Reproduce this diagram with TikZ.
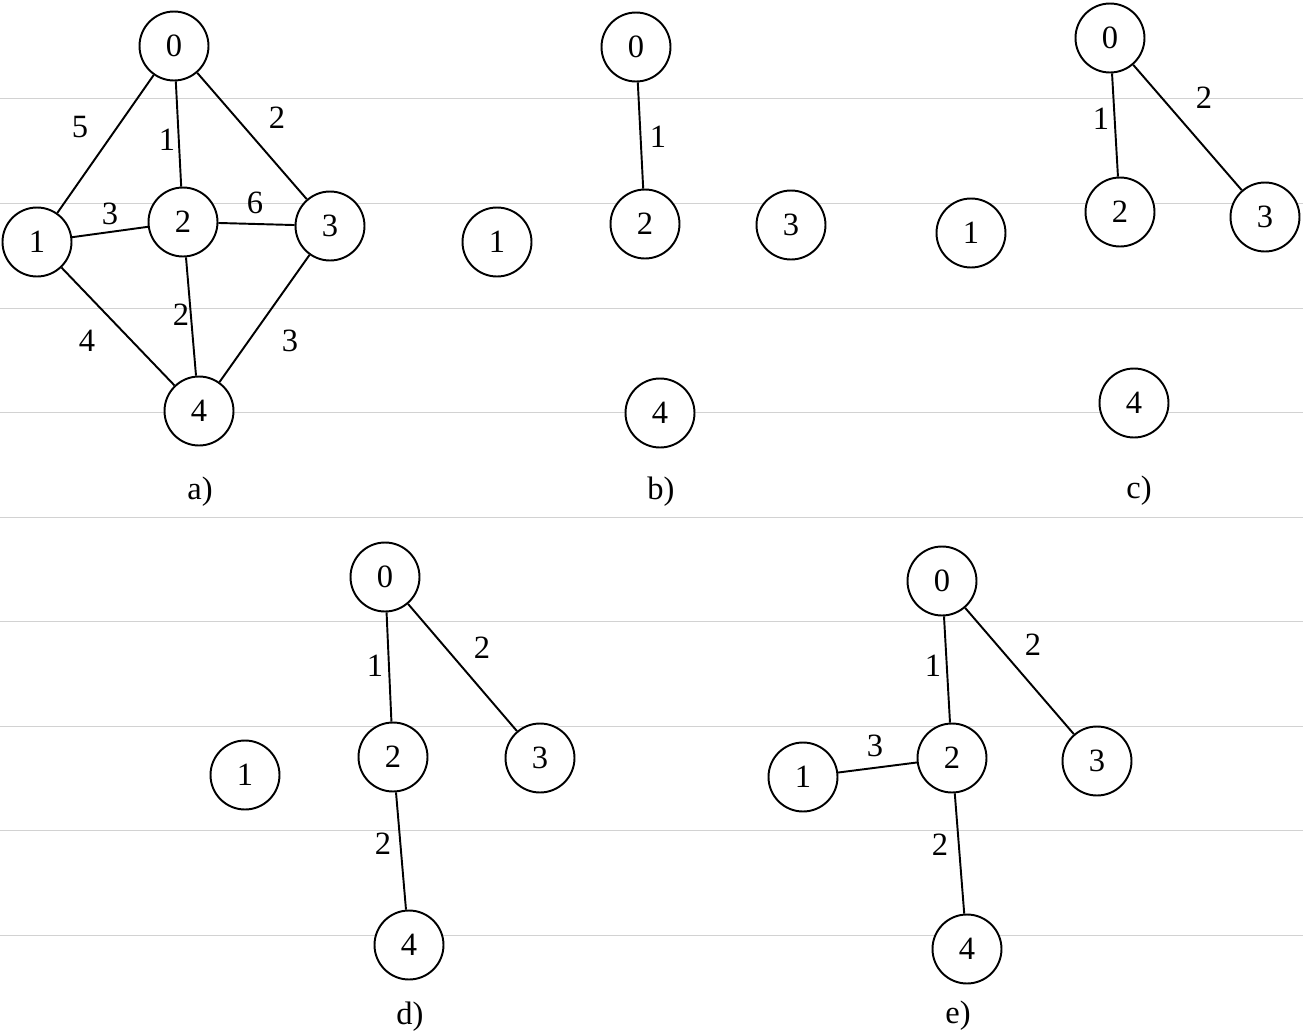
\documentclass[tikz,border=0pt]{standalone}
\usepackage{fontspec}
\setmainfont{Liberation Serif}
\usepackage{tikz}
\definecolor{ruleGray}{HTML}{D2D2D2}

\begin{document}
\begin{tikzpicture}[
    x=0.02cm, y=-0.02cm,
    vtx/.style={circle, draw, line width=1.1pt, minimum size=1.38cm, inner sep=0pt, fill=white, font=\fontsize{18.5}{22}\selectfont},
    wlbl/.style={inner sep=0pt, font=\fontsize{18.5}{22}\selectfont},
    caplbl/.style={inner sep=0pt, font=\fontsize{18.5}{22}\selectfont},
    every path/.style={line width=1.1pt}
]
\useasboundingbox (0,0) rectangle (1303,1032);
% ruled background
\foreach \yy in {98,203,308,412,517,621,726,830,935}
    \draw[ruleGray, line width=0.5pt] (0,\yy) -- (1303,\yy);

% a) the full graph
\node[vtx] (a0) at (174,46) {0};
\node[vtx] (a1) at (37,242) {1};
\node[vtx] (a2) at (183,222) {2};
\node[vtx] (a3) at (330,226) {3};
\node[vtx] (a4) at (199,411) {4};
\draw (a0) -- (a1);
\draw (a0) -- (a2);
\draw (a0) -- (a3);
\draw (a1) -- (a2);
\draw (a2) -- (a3);
\draw (a2) -- (a4);
\draw (a1) -- (a4);
\draw (a3) -- (a4);
\node[wlbl] (wa01) at (80,127) {5};
\node[wlbl] (wa02) at (167,140) {1};
\node[wlbl] (wa03) at (277,118) {2};
\node[wlbl] (wa12) at (110,214) {3};
\node[wlbl] (wa23) at (255,203) {6};
\node[wlbl] (wa24) at (181,315) {2};
\node[wlbl] (wa14) at (87,341) {4};
\node[wlbl] (wa34) at (290,341) {3};
\node[caplbl] (capa) at (200,492) {a)};

% b)
\node[vtx] (b0) at (636,47) {0};
\node[vtx] (b1) at (497,242) {1};
\node[vtx] (b2) at (645,224) {2};
\node[vtx] (b3) at (791,225) {3};
\node[vtx] (b4) at (660,413) {4};
\draw (b0) -- (b2);
\node[wlbl] (wb02) at (658,137) {1};
\node[caplbl] (capb) at (661,492) {b)};

% c)
\node[vtx] (c0) at (1110,38) {0};
\node[vtx] (c1) at (971,233) {1};
\node[vtx] (c2) at (1120,212) {2};
\node[vtx] (c3) at (1265,217) {3};
\node[vtx] (c4) at (1134,403) {4};
\draw (c0) -- (c2);
\draw (c0) -- (c3);
\node[wlbl] (wc02) at (1101,119) {1};
\node[wlbl] (wc03) at (1204,98) {2};
\node[caplbl] (capc) at (1139,491) {c)};

% d)
\node[vtx] (d0) at (385,577) {0};
\node[vtx] (d1) at (245,775) {1};
\node[vtx] (d2) at (393,757) {2};
\node[vtx] (d3) at (540,758) {3};
\node[vtx] (d4) at (409,945) {4};
\draw (d0) -- (d2);
\draw (d0) -- (d3);
\draw (d2) -- (d4);
\node[wlbl] (wd02) at (375,666) {1};
\node[wlbl] (wd03) at (482,648) {2};
\node[wlbl] (wd24) at (383,844) {2};
\node[caplbl] (capd) at (410,1017) {d)};

% e)
\node[vtx] (e0) at (942,581) {0};
\node[vtx] (e1) at (803,777) {1};
\node[vtx] (e2) at (952,758) {2};
\node[vtx] (e3) at (1097,761) {3};
\node[vtx] (e4) at (967,949) {4};
\draw (e0) -- (e2);
\draw (e0) -- (e3);
\draw (e1) -- (e2);
\draw (e2) -- (e4);
\node[wlbl] (we02) at (933,666) {1};
\node[wlbl] (we03) at (1033,645) {2};
\node[wlbl] (we12) at (875,746) {3};
\node[wlbl] (we24) at (940,845) {2};
\node[caplbl] (cape) at (958,1016) {e)};
\end{tikzpicture}
\end{document}
